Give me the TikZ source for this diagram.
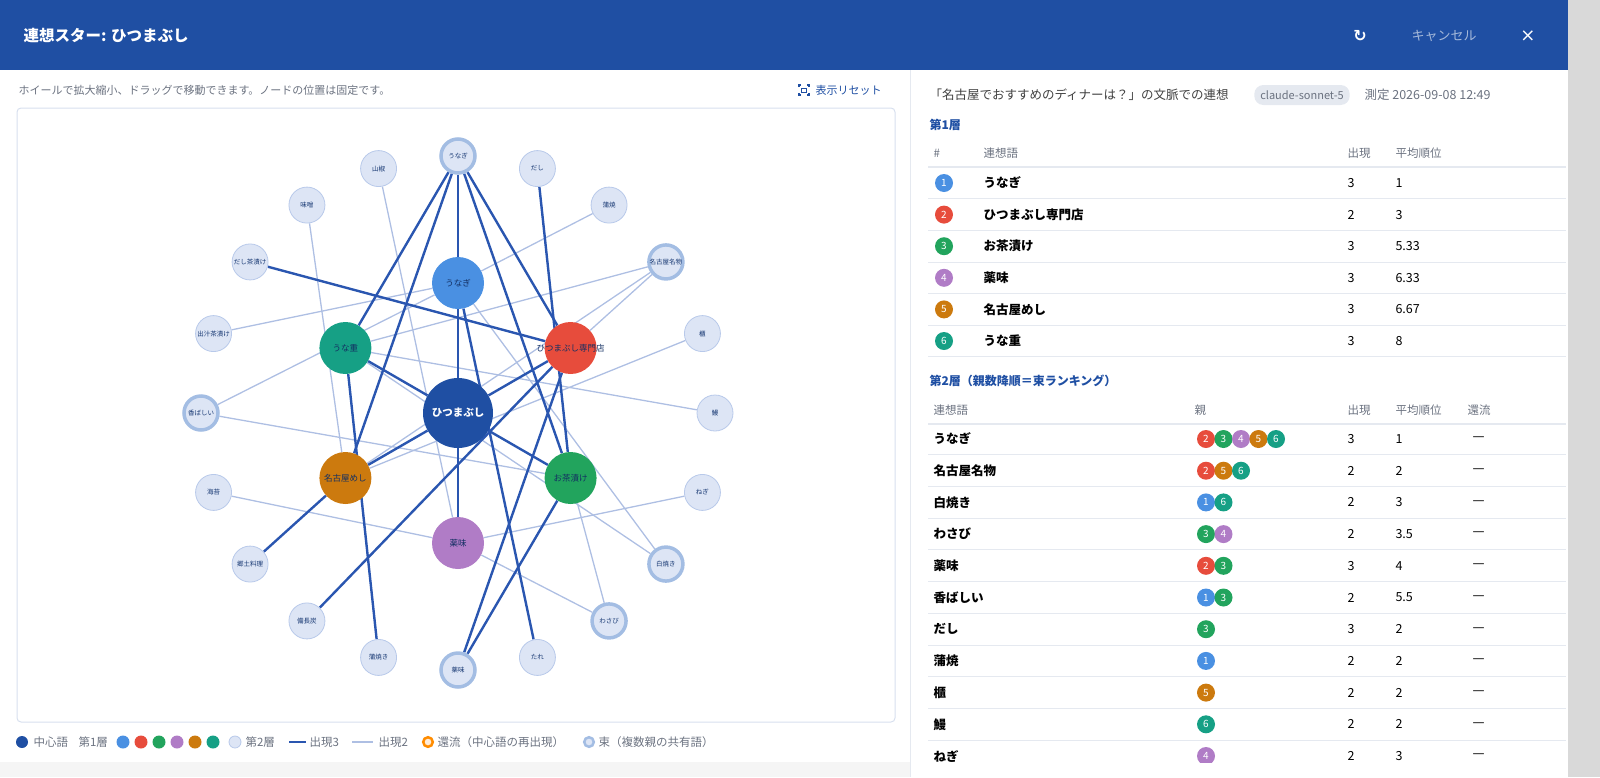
\documentclass[tikz,border=0pt]{standalone}
\usepackage{fontspec}
\setmainfont{Noto Sans CJK JP}
\newfontfamily\djv{DejaVu Sans}
\usetikzlibrary{backgrounds}
\definecolor{hdr}{HTML}{1F4FA3}
\definecolor{cA}{HTML}{4A90E2}
\definecolor{cB}{HTML}{E74C3C}
\definecolor{cC}{HTML}{22A45D}
\definecolor{cD}{HTML}{B07CC6}
\definecolor{cE}{HTML}{CC7A0E}
\definecolor{cF}{HTML}{16A085}
\definecolor{ringfill}{HTML}{DDE5F5}
\definecolor{ringdraw}{HTML}{B8C9EA}
\definecolor{bundle}{HTML}{A3BDE3}
\definecolor{thickc}{HTML}{2A56B0}
\definecolor{thinc}{HTML}{AEBFE3}
\definecolor{gtxt}{HTML}{6B7280}
\definecolor{rule}{HTML}{E5E9F0}
\tikzset{
 x=1pt,y=-1pt,
 l2/.style={circle,minimum size=36pt,inner sep=0pt,fill=ringfill,draw=ringdraw,line width=0.8pt,font=\fontsize{6.5}{7}\selectfont,text=hdr!70!black},
 bun/.style={l2,draw=bundle,line width=3.5pt,minimum size=34pt},
 l1/.style={circle,minimum size=52pt,inner sep=0pt,fill=#1},
 l1t/.style={font=\fontsize{8.5}{9}\selectfont,text=hdr!60!black,inner sep=0pt},
 thick/.style={draw=thickc,line width=2.4pt},
 thin/.style={draw=thinc,line width=1.3pt},
 badge/.style={circle,minimum size=18pt,inner sep=0pt,fill=#1,text=white,font=\fontsize{10}{10}\selectfont},
 hd/.style={anchor=west,font=\fontsize{11.5}{12}\selectfont,text=gtxt},
 cell/.style={anchor=west,font=\fontsize{12.5}{13}\selectfont},
 bcell/.style={anchor=west,font=\fontsize{12.5}{13}\selectfont\bfseries},
 lg/.style={anchor=west,font=\fontsize{11.5}{12}\selectfont,text=gtxt},
}
\begin{document}
\begin{tikzpicture}
\useasboundingbox (0,0) rectangle (1600,777);
% header
\fill[hdr] (0,0) rectangle (1568,70);
\node[anchor=west,text=white,font=\fontsize{15.5}{16}\selectfont\bfseries] (title) at (20,36) {連想スター: ひつまぶし};
\node[text=white,font=\djv\fontsize{16}{16}\selectfont\bfseries] (reload) at (1360,36) {↻};
\node[text=white!60!hdr,font=\fontsize{13}{13}\selectfont] (cancel) at (1444,36) {キャンセル};
\node[text=white,font=\djv\fontsize{18}{18}\selectfont] (close) at (1528,36) {×};
\fill[gray!30] (1568,0) rectangle (1600,777);
% left panel
\node[anchor=west,text=gtxt,font=\fontsize{11}{11}\selectfont] (hint) at (15,90) {ホイールで拡大縮小、ドラッグで移動できます。ノードの位置は固定です。};
\node[anchor=west,text=hdr,font=\fontsize{11}{11}\selectfont] (reset) at (812,90) {表示リセット};
\draw[hdr,line width=1.2pt] (799,87)--(799,85)--(801,85) (807,85)--(809,85)--(809,87) (809,93)--(809,95)--(807,95) (801,95)--(799,95)--(799,93);
\draw[hdr,line width=1pt] (801.5,88) rectangle (806.5,92);
\draw[draw=rule!70!ringdraw,rounded corners=4pt,line width=1pt] (17,108) rectangle (895,722);
\draw[rule,line width=1pt] (910,70) -- (910,777);
% graph nodes
\node[circle,minimum size=70pt,inner sep=0pt,fill=hdr,text=white,font=\fontsize{10.5}{11}\selectfont\bfseries] (c) at (458,413) {ひつまぶし};
\foreach \n/\a/\col/\t in {p1/90/cA/うなぎ,p2/30/cB/ひつまぶし専門店,p3/-30/cC/お茶漬け,p4/-90/cD/薬味,p5/210/cE/名古屋めし,p6/150/cF/うな重}{
  \node[l1=\col] (\n) at ({458+130*cos(\a)},{413-130*sin(\a)}) {};
  \node[l1t] (\n t) at (\n) {\t};
}
\foreach \k/\st/\t in {0/bun/うなぎ,1/l2/だし,2/l2/蒲焼,3/bun/名古屋名物,4/l2/櫃,5/l2/鰻,6/l2/ねぎ,7/bun/白焼き,8/bun/わさび,9/l2/たれ,10/bun/薬味,11/l2/蒲焼き,12/l2/備長炭,13/l2/郷土料理,14/l2/海苔,15/bun/香ばしい,16/l2/出汁茶漬け,17/l2/だし茶漬け,18/l2/味噌,19/l2/山椒}
  \node[\st] (r\k) at ({458+257*cos(90-18*\k)},{413-257*sin(90-18*\k)}) {\t};
\begin{scope}[on background layer]
 \foreach \a/\b in {r3/p2,r3/p5,r3/p6,r7/p1,r7/p6,r8/p3,r8/p4,r15/p1,r15/p3,r2/p1,r4/p5,r5/p6,r6/p4,r19/p4,r18/p5,r16/p1,r14/p4}
   \draw[thin] (\a) -- (\b);
 \foreach \p in {p1,p2,p3,p4,p5,p6} \draw[thick] (c) -- (\p);
 \foreach \p in {p2,p3,p4,p5,p6} \draw[thick] (r0) -- (\p);
 \foreach \a/\b in {r10/p2,r10/p3,r1/p3,r17/p2,r13/p5,r12/p2,r11/p6,r9/p1}
   \draw[thick] (\a) -- (\b);
\end{scope}
% legend
\fill[hdr] (22,742) circle (6);
\node[lg] (lg1) at (30,742) {中心語};
\node[lg] (lg2) at (75,742) {第1層};
\foreach \i/\col in {0/cA,1/cB,2/cC,3/cD,4/cE,5/cF} \fill[\col] ({123+18*\i},742) circle (6.5);
\draw[fill=ringfill,draw=ringdraw,line width=0.8pt] (235,742) circle (6);
\node[lg] (lg3) at (242,742) {第2層};
\draw[thick] (289,742) -- (306,742);
\node[lg] (lg4) at (306,742) {出現3};
\draw[thin] (352,742) -- (373,742);
\node[lg] (lg5) at (375,742) {出現2};
\draw[draw=orange!90!yellow,line width=2.5pt,fill=white!85!orange] (428,742) circle (4.8);
\node[lg] (lg6) at (434,742) {還流（中心語の再出現）};
\draw[draw=bundle,line width=2.5pt,fill=ringfill] (589,742) circle (4.8);
\node[lg] (lg7) at (595,742) {束（複数親の共有語）};
% right panel
\node[anchor=west,font=\fontsize{12.5}{13}\selectfont,text=black!75] (ctx) at (926,95) {「名古屋でおすすめのディナーは？」の文脈での連想};
\node[fill=rule,rounded corners=9pt,minimum height=20pt,inner xsep=6pt,text=gtxt,font=\fontsize{11}{11}\selectfont] (model) at (1302,95) {claude-sonnet-5};
\node[anchor=west,font=\fontsize{12.5}{13}\selectfont,text=gtxt] (date) at (1361,95) {測定 2026-09-08 12:49};
\node[anchor=west,text=hdr,font=\fontsize{12}{12}\selectfont\bfseries] (h1) at (926,125) {第1層};
\node[hd] (t1a) at (930,153) {\#};
\node[hd] (t1b) at (980,153) {連想語};
\node[hd] (t1c) at (1344,153) {出現};
\node[hd] (t1d) at (1392,153) {平均順位};
\draw[rule,line width=1.2pt] (928,167) -- (1566,167);
\foreach \i/\col/\w/\o/\m in {1/cA/うなぎ/3/1,2/cB/ひつまぶし専門店/2/3,3/cC/お茶漬け/3/5.33,4/cD/薬味/3/6.33,5/cE/名古屋めし/3/6.67,6/cF/うな重/3/8}{
  \node[badge=\col] (b\i) at (944,{183+31.6*(\i-1)}) {\i};
  \node[bcell] (w\i) at (980,{183+31.6*(\i-1)}) {\w};
  \node[cell] (o\i) at (1344,{183+31.6*(\i-1)}) {\o};
  \node[cell] (m\i) at (1392,{183+31.6*(\i-1)}) {\m};
  \draw[rule,line width=1pt] (928,{198.8+31.6*(\i-1)}) -- (1566,{198.8+31.6*(\i-1)});
}
\node[anchor=west,text=hdr,font=\fontsize{12}{12}\selectfont\bfseries] (h2) at (926,381) {第2層（親数降順＝束ランキング）};
\node[hd] (t2a) at (930,410) {連想語};
\node[hd] (t2b) at (1191,410) {親};
\node[hd] (t2c) at (1344,410) {出現};
\node[hd] (t2d) at (1392,410) {平均順位};
\node[hd] (t2e) at (1464,410) {還流};
\draw[rule,line width=1.2pt] (928,424) -- (1566,424);
\foreach \i/\w/\ps/\o/\m in {0/うなぎ/{2/cB,3/cC,4/cD,5/cE,6/cF}/3/1,1/名古屋名物/{2/cB,5/cE,6/cF}/2/2,2/白焼き/{1/cA,6/cF}/2/3,3/わさび/{3/cC,4/cD}/2/3.5,4/薬味/{2/cB,3/cC}/3/4,5/香ばしい/{1/cA,3/cC}/2/5.5,6/だし/{3/cC}/3/2,7/蒲焼/{1/cA}/2/2,8/櫃/{5/cE}/2/2,9/鰻/{6/cF}/2/2,10/ねぎ/{4/cD}/2/3}{
  \pgfmathsetmacro\yy{439+31.7*\i}
  \node[bcell] (v\i) at (930,\yy) {\w};
  \foreach \num/\col [count=\j from 0] in \ps
     \node[badge=\col] (q\i-\j) at ({1206+17.5*\j},\yy) {\num};
  \node[cell] (x\i) at (1344,\yy) {\o};
  \node[cell] (y\i) at (1392,\yy) {\m};
  \node[cell,font=\djv\fontsize{12}{12}\selectfont] (z\i) at (1469,\yy) {—};
  \draw[rule,line width=1pt] (928,{\yy+15.8}) -- (1566,{\yy+15.8});
}
\fill[white] (911,763) rectangle (1568,777);
\fill[gray!8] (0,762) rectangle (910,777);
\end{tikzpicture}
\end{document}
